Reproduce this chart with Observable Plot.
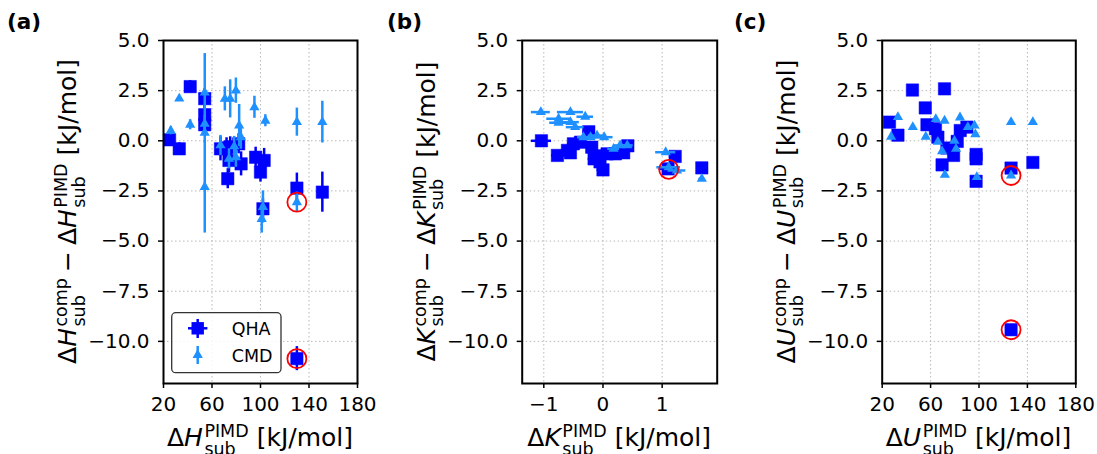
<!DOCTYPE html>
<html><head><meta charset="utf-8">
<script src="https://cdn.jsdelivr.net/npm/d3@7"></script>
<script src="https://cdn.jsdelivr.net/npm/@observablehq/plot@0.6"></script>
<style>
html,body{margin:0;padding:0;background:#fff;}
#wrap{position:relative;width:1097px;height:454px;overflow:hidden;font-family:"DejaVu Sans",sans-serif;}
#wrap svg{position:absolute;top:0;}
</style></head><body><div id="wrap"></div>
<script>
// ---------- data ----------
const yTicks = [5, 2.5, 0, -2.5, -5, -7.5, -10];
const xTicksH = [20, 60, 100, 140, 180];
const xTicksK = [-1, 0, 1];
const xTicksU = [20, 60, 100, 140, 180];

// (a) enthalpy
const hQhaX   = [25, 33, 42, 54, 54, 54, 67, 72, 75, 82, 74, 73, 84, 96, 103, 100, 102, 130, 151, 130];
const hQhaY   = [0.05, -0.4, 2.7, 2.1, 1.3, 0.8, -0.4, -0.35, -0.3, -0.15, -0.98, -1.89, -1.15, -0.82, -0.98, -1.56, -3.39, -2.36, -2.56, -10.86];
const hQhaErr = [0.3, 0.3, 0.3, 0.5, 0.5, 0.5, 0.6, 0.5, 0.5, 0.5, 0.6, 0.5, 0.6, 0.5, 0.6, 0.5, 0.5, 0.75, 1.0, 0.6];
const hCmdX   = [26, 33, 42, 54, 54, 54, 54, 67, 70.6, 75, 79.7, 82.4, 83.8, 74, 79.7, 78.3, 95, 104, 102, 101, 130, 151, 130];
const hCmdY   = [0.5, 2.1, 0.8, 2.4, 0.85, 0.4, -2.3, -0.23, 2.09, 2.09, 2.5, 0.76, 0.18, -0.9, -0.82, -0.28, 1.67, 1.0, -3.3, -3.9, 0.93, 0.93, -3.06];
const hCmdErr = [0.2, 0.1, 0.25, 1.95, 0.4, 0.5, 2.3, 0.5, 0.6, 0.95, 0.63, 1.05, 0.6, 0.5, 0.5, 0.5, 0.55, 0.3, 0.8, 0.7, 0.7, 1.04, 0.5];
const hCircX = [130, 130];
const hCircY = [-3.06, -10.86];

// (b) kinetic energy
const kQhaX   = [-1.04, -0.77, -0.6, -0.55, -0.5, -0.38, -0.24, -0.19, -0.15, -0.1, -0.05, 0.0, 0.07, 0.21, 0.35, 0.42, 1.22, 1.1, 1.67];
const kQhaY   = [0.0, -0.73, -0.48, -0.6, -0.15, -0.07, 0.45, -0.32, -0.9, -0.75, -1.05, -1.45, -0.65, -0.65, -0.6, -0.25, -0.78, -1.4, -1.35];
const kQhaErr = [0.17, 0.1, 0.1, 0.1, 0.1, 0.1, 0.1, 0.1, 0.1, 0.1, 0.1, 0.1, 0.1, 0.1, 0.1, 0.1, 0.1, 0.15, 0.05];
const kCmdX   = [-1.05, -0.75, -0.75, -0.55, -0.55, -0.47, -0.3, -0.33, -0.21, -0.1, 0.02, 0.18, 0.29, 0.41, 1.06, 1.11, 1.25, 1.67];
const kCmdY   = [1.43, 1.1, 0.9, 1.43, 0.93, 0.68, 1.2, 0.18, 0.18, 0.26, 0.18, -0.4, -0.23, -0.23, -0.57, -1.32, -1.48, -1.9];
const kCmdErr = [0.16, 0.2, 0.15, 0.22, 0.15, 0.15, 0.14, 0.1, 0.1, 0.15, 0.15, 0.1, 0.1, 0.1, 0.17, 0.2, 0.15, 0.05];
const kCircX = [1.11];
const kCircY = [-1.42];

// (c) internal energy
const uQhaX = [26, 33, 45, 71.5, 55.6, 57, 64, 66, 69.5, 73.5, 79, 82, 84.5, 90, 97.6, 97.6, 97.6, 126.5, 144.5, 126.5];
const uQhaY = [0.93, 0.28, 2.53, 2.59, 1.64, 0.8, 0.6, 0.18, -1.2, -0.36, -0.73, -0.03, 0.51, 0.68, -0.68, -0.9, -2.02, -1.36, -1.08, -9.42];
const uCmdX = [27.4, 33, 45.3, 56, 64.3, 71.5, 66, 69.5, 71.8, 79.7, 81, 84.3, 90.8, 96.3, 97, 98.2, 126.5, 126.5, 144.5];
const uCmdY = [0.2, 1.18, 0.68, 0.2, 1.08, 1.0, -0.05, -0.52, -1.7, 0.0, -0.4, 1.16, 0.68, 0.76, 0.33, -1.81, -1.73, 0.93, 0.93];
const uCircX = [126.5, 126.5];
const uCircY = [-1.73, -9.42];

// ---------- helpers ----------
const QHA_COLOR = "#0000ff", CMD_COLOR = "#1e90ff";
const zip = (xs, ys, es) => xs.map((x, i) => ({x, y: ys[i], e: es ? es[i] : 0}));

function panel({left, width, mL, mR, xDomain, xTicks, xFormat, qha, cmd, circ, errDir}) {
  const vert = errDir === "y";
  const errMarks = (data, color) => vert
    ? Plot.ruleX(data.filter(d => d.e > 0), {x: "x", y1: d => d.y - d.e, y2: d => d.y + d.e, stroke: color, strokeWidth: 2.5})
    : Plot.ruleY(data.filter(d => d.e > 0), {y: "y", x1: d => d.x - d.e, x2: d => d.x + d.e, stroke: color, strokeWidth: 2.5});
  const svg = Plot.plot({
    width, height: 454,
    marginLeft: mL, marginRight: mR, marginTop: 40, marginBottom: 71,
    style: {fontFamily: "DejaVu Sans", fontSize: "20px", background: "transparent", color: "black", overflow: "visible"},
    x: {domain: xDomain, label: null},
    y: {domain: [-12.1, 5], label: null},
    marks: [
      Plot.gridX(xTicks, {stroke: "#b8b8b8", strokeOpacity: 1, strokeWidth: 1, strokeDasharray: "1.5,2.5"}),
      Plot.gridY(yTicks, {stroke: "#b8b8b8", strokeOpacity: 1, strokeWidth: 1, strokeDasharray: "1.5,2.5"}),
      errMarks(qha, QHA_COLOR),
      Plot.dot(qha, {x: "x", y: "y", symbol: "square", r: 7, fill: QHA_COLOR, stroke: QHA_COLOR, strokeWidth: 0.5}),
      errMarks(cmd, CMD_COLOR),
      Plot.dot(cmd, {x: "x", y: "y", symbol: "triangle", r: 3.8, fill: CMD_COLOR}),
      Plot.dot(circ, {x: "x", y: "y", r: 9.5, stroke: "red", strokeWidth: 1.8, fill: "none"}),
      Plot.axisX(xTicks, {tickFormat: xFormat, tickSize: 5, tickPadding: 8, strokeWidth: 1.5, label: null}),
      Plot.axisY(yTicks, {tickFormat: d3.format(".1f"), tickSize: 5, tickPadding: 9, strokeWidth: 1.5, label: null}),
      Plot.frame({stroke: "black", strokeWidth: 2})
    ]
  });
  svg.style.left = left + "px";
  document.getElementById("wrap").appendChild(svg);
}

panel({left: 0, width: 370, mL: 163, mR: 13, xDomain: [20, 180], xTicks: xTicksH, xFormat: d3.format("d"),
  qha: zip(hQhaX, hQhaY, hQhaErr), cmd: zip(hCmdX, hCmdY, hCmdErr), circ: zip(hCircX, hCircY), errDir: "y"});
panel({left: 370, width: 360, mL: 151.7, mR: 13.3, xDomain: [-1.365, 1.93], xTicks: xTicksK, xFormat: d3.format("d"),
  qha: zip(kQhaX, kQhaY, kQhaErr), cmd: zip(kCmdX, kCmdY, kCmdErr), circ: zip(kCircX, kCircY), errDir: "x"});
panel({left: 730, width: 367, mL: 151.7, mR: 21.7, xDomain: [20, 180], xTicks: xTicksU, xFormat: d3.format("d"),
  qha: zip(uQhaX, uQhaY), cmd: zip(uCmdX, uCmdY), circ: zip(uCircX, uCircY), errDir: "y"});

// ---------- overlay text (labels, legend) ----------
const ov = d3.select("#wrap").append("svg").attr("width", 1097).attr("height", 454)
  .style("left", "0px").style("pointer-events", "none")
  .attr("font-family", "DejaVu Sans").attr("fill", "black");

const FS = 25, SFS = 17.5;
function mathLabel(parts, cx, cy, rot) {
  const g = ov.append("g");
  let x = 0;
  for (const p of parts) {
    if (p.gap) { x += p.gap; continue; }
    if (p.sup) {
      const a = g.append("text").attr("x", x).attr("y", -9).attr("font-size", SFS).text(p.sup);
      const b = g.append("text").attr("x", x).attr("y", 8.5).attr("font-size", SFS).text(p.sub);
      x += Math.max(a.node().getComputedTextLength(), b.node().getComputedTextLength());
    } else {
      const t = g.append("text").attr("x", x).attr("y", 0).attr("font-size", FS)
        .attr("font-style", p.it ? "italic" : null).text(p.t);
      x += t.node().getComputedTextLength() + (p.it ? 1.5 : 0);
    }
  }
  g.attr("transform", `translate(${cx},${cy}) rotate(${rot}) translate(${-x / 2},0)`);
}
const unit = [{gap: 8}, {t: "[kJ/mol]"}];
function xLab(sym) { return [{t: "Δ"}, {t: sym, it: 1}, {sup: "PIMD", sub: "sub"}, ...unit]; }
function yLab(sym) { return [{t: "Δ"}, {t: sym, it: 1}, {sup: "comp", sub: "sub"}, {gap: 6}, {t: "−"}, {gap: 6},
  {t: "Δ"}, {t: sym, it: 1}, {sup: "PIMD", sub: "sub"}, ...unit]; }

mathLabel(xLab("H"), 260, 446, 0);
mathLabel(xLab("K"), 619.2, 446, 0);
mathLabel(xLab("U"), 978.5, 446, 0);
mathLabel(yLab("H"), 76, 211.5, -90);
mathLabel(yLab("K"), 434.7, 211.5, -90);
mathLabel(yLab("U"), 794.7, 211.5, -90);

// panel letters
[["(a)", 7], ["(b)", 387], ["(c)", 734]].forEach(([t, x]) =>
  ov.append("text").attr("x", x).attr("y", 29).attr("font-size", 21.5).attr("font-weight", "bold").text(t));

// legend in panel (a)
const lg = ov.append("g");
lg.append("rect").attr("x", 171.7).attr("y", 312.7).attr("width", 109.3).attr("height", 60).attr("rx", 4)
  .attr("fill", "white").attr("fill-opacity", 0.85).attr("stroke", "#333").attr("stroke-width", 1.3);
lg.append("line").attr("x1", 197.7).attr("x2", 197.7).attr("y1", 319).attr("y2", 338).attr("stroke", QHA_COLOR).attr("stroke-width", 2.5);
lg.append("line").attr("x1", 188).attr("x2", 207.4).attr("y1", 328.3).attr("y2", 328.3).attr("stroke", QHA_COLOR).attr("stroke-width", 2.5);
lg.append("rect").attr("x", 197.7 - 6.2).attr("y", 328.3 - 6.2).attr("width", 12.4).attr("height", 12.4).attr("fill", QHA_COLOR);
lg.append("line").attr("x1", 197.7).attr("x2", 197.7).attr("y1", 346).attr("y2", 364).attr("stroke", CMD_COLOR).attr("stroke-width", 2.5);
lg.append("path").attr("d", d3.symbol(d3.symbolTriangle, Math.PI * 3.8 * 3.8)()).attr("transform", "translate(197.7,355)").attr("fill", CMD_COLOR);
lg.append("text").attr("x", 231.7).attr("y", 334.5).attr("font-size", 17.5).text("QHA");
lg.append("text").attr("x", 231.7).attr("y", 361.7).attr("font-size", 17.5).text("CMD");
</script>
</body></html>
